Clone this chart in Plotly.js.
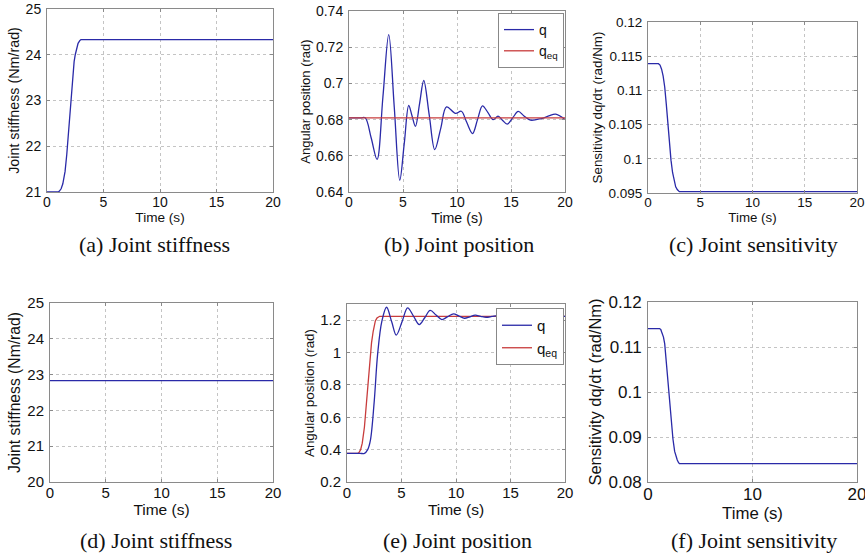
<!DOCTYPE html>
<html>
<head>
<meta charset="utf-8">
<script src="https://cdn.plot.ly/plotly-3.0.1.min.js"></script>
<style>html,body{margin:0;padding:0;background:#fff;}#chart{width:865px;height:557px;}</style>
</head>
<body>
<div id="chart"></div>
<script>
// ---------- data ----------
// (a) joint stiffness, case 1
const timeA = [0, 1.0, 1.1, 1.25, 1.4, 1.5, 1.6, 1.75, 1.9, 2.0, 2.1, 2.25, 2.4, 2.5, 2.6, 2.75, 2.9, 3.0, 20];
const stiffA = [21.0, 21.0, 21.02, 21.07, 21.18, 21.3, 21.45, 21.82, 22.3, 22.68, 23.05, 23.5, 23.85, 24.0, 24.12, 24.25, 24.31, 24.33, 24.33];

// (b) joint position, case 1
const timeB = [0, 1.1, 1.5, 2.05, 2.6, 3.14, 3.68, 4.19, 4.7, 5.12, 5.53, 5.84, 6.15, 6.54, 6.92, 7.43, 7.94, 8.49, 9.03, 9.86, 10.4, 10.9, 11.44, 11.9, 12.36, 12.85, 13.35, 13.8, 14.2, 14.65, 15.16, 15.67, 16.2, 16.8, 17.8, 18.5, 19.13, 20];
const qB = [0.681, 0.681, 0.681, 0.670, 0.658, 0.6925, 0.727, 0.687, 0.6465, 0.667, 0.6878, 0.682, 0.6763, 0.689, 0.7016, 0.6825, 0.6634, 0.675, 0.687, 0.6834, 0.6846, 0.6785, 0.6723, 0.680, 0.6876, 0.684, 0.680, 0.6819, 0.6797, 0.6775, 0.681, 0.6845, 0.682, 0.6797, 0.6806, 0.682, 0.683, 0.680];
const timeBeq = [0, 20];
const qeqB = [0.681, 0.681];

// (c) joint sensitivity, case 1
const timeC = [0, 1.0, 1.15, 1.3, 1.45, 1.6, 1.75, 1.9, 2.05, 2.2, 2.35, 2.5, 2.65, 2.8, 2.9, 3.0, 20];
const sensC = [0.1139, 0.1139, 0.1137, 0.1131, 0.1121, 0.1105, 0.1080, 0.1050, 0.1022, 0.0998, 0.0980, 0.0967, 0.0959, 0.0955, 0.0953, 0.0952, 0.0952];

// (d) joint stiffness, case 2
const timeD = [0, 1, 3, 20];
const stiffD = [22.83, 22.83, 22.83, 22.83];

// (e) joint position, case 2
const timeE = [0, 1.2, 1.6, 1.9, 2.14, 2.5, 2.81, 3.2, 3.63, 4.1, 4.52, 5.05, 5.56, 6.1, 6.63, 7.13, 7.63, 8.17, 8.7, 9.24, 9.77, 10.28, 10.78, 11.27, 11.76, 12.26, 12.76, 13.3, 13.8, 14.5, 15.5, 17, 18.5, 20];
const qE = [0.377, 0.377, 0.377, 0.40, 0.455, 0.70, 0.99, 1.194, 1.28, 1.19, 1.108, 1.19, 1.276, 1.225, 1.173, 1.215, 1.26, 1.232, 1.204, 1.222, 1.239, 1.225, 1.212, 1.221, 1.231, 1.224, 1.218, 1.223, 1.228, 1.223, 1.221, 1.223, 1.223, 1.223];
const timeEeq = [0, 1.0, 1.1, 1.25, 1.4, 1.5, 1.6, 1.75, 1.9, 2.0, 2.1, 2.25, 2.4, 2.5, 2.6, 2.75, 2.9, 3.0, 20];
const qeqE = [0.377, 0.377, 0.382, 0.40, 0.44, 0.48, 0.54, 0.66, 0.79, 0.87, 0.96, 1.06, 1.13, 1.17, 1.195, 1.213, 1.221, 1.224, 1.224];

// (f) joint sensitivity, case 2
const timeF = [0, 1.1, 1.22, 1.35, 1.48, 1.6, 1.75, 1.91, 2.07, 2.23, 2.39, 2.55, 2.68, 2.8, 2.9, 3.0, 20];
const sensF = [0.1141, 0.1141, 0.1139, 0.1132, 0.1122, 0.1107, 0.1066, 0.1019, 0.0974, 0.0930, 0.0895, 0.0868, 0.0856, 0.0849, 0.0844, 0.0841, 0.0841];

// titles / labels
const xTitle = 'Time (s)';
const yTitles = ['Joint stiffness (Nm/rad)', 'Angular position (rad)', 'Sensitivity dq/dτ (rad/Nm)',
                 'Joint stiffness (Nm/rad)', 'Angular position (rad)', 'Sensitivity dq/dτ (rad/Nm)'];
const captions = ['(a) Joint stiffness', '(b) Joint position', '(c) Joint sensitivity',
                  '(d) Joint stiffness', '(e) Joint position', '(f) Joint sensitivity'];
const legendNames = ['q', 'q<sub>eq</sub>'];

// ---------- styling ----------
const BLUE = '#2a2aa8';
const RED = '#c83c3c';
const FONT = 'Liberation Sans, Arial, sans-serif';

function line(x, y, color, xa, ya, extra) {
  return Object.assign({
    x: x, y: y, xaxis: xa, yaxis: ya, type: 'scatter', mode: 'lines',
    line: {color: color, width: 1.3, shape: 'linear'},
    showlegend: false, hoverinfo: 'skip'
  }, extra || {});
}
const splineLine = {color: BLUE, width: 1.3, shape: 'spline', smoothing: 1};

const traces = [
  line(timeA, stiffA, BLUE, 'x', 'y'),
  line(timeB, qB, BLUE, 'x2', 'y2', {name: legendNames[0], showlegend: true, legend: 'legend', line: splineLine}),
  line(timeBeq, qeqB, RED, 'x2', 'y2', {name: legendNames[1], showlegend: true, legend: 'legend'}),
  line(timeC, sensC, BLUE, 'x3', 'y3'),
  line(timeD, stiffD, BLUE, 'x4', 'y4'),
  line(timeEeq, qeqE, RED, 'x5', 'y5', {name: legendNames[1], showlegend: true, legend: 'legend2'}),
  line(timeE, qE, BLUE, 'x5', 'y5', {name: legendNames[0], showlegend: true, legend: 'legend2', line: splineLine}),
  line(timeF, sensF, BLUE, 'x6', 'y6')
];

const W = 865, H = 557;
// plot boxes in pixels: [left, right, top, bottom]
const boxes = [
  [47, 273, 9, 192], [349, 565, 11, 192], [648, 857, 22, 193],
  [50, 273, 303, 482], [347, 565, 304, 482], [648, 857, 302, 482]
];
const tickSizes = [14, 14, 13.5, 15, 15, 17];
const xTitleSizes = [13.6, 14.2, 13.3, 15.5, 15.5, 16.8];
const yTitleSizes = [14.3, 13, 13.4, 15.7, 13.4, 16.5];
const xRanges = [[0, 20], [0, 20], [0, 20], [0, 20], [0, 20], [0, 20]];
const xDticks = [5, 5, 5, 5, 5, 10];
const yRanges = [[21, 25], [0.64, 0.74], [0.095, 0.12], [20, 25], [0.2, 1.3], [0.08, 0.12]];
const yDticks = [1, 0.02, 0.005, 1, 0.2, 0.01];
const yTick0 = [21, 0.64, 0.095, 20, 0.2, 0.08];

const layout = {
  width: W, height: H,
  margin: {l: 0, r: 0, t: 0, b: 0},
  paper_bgcolor: '#ffffff', plot_bgcolor: '#ffffff',
  font: {family: FONT, color: '#111'},
  showlegend: true,
  legend: {
    x: 564 / W, xanchor: 'right', y: 1 - 13 / H, yanchor: 'top',
    bgcolor: '#ffffff', bordercolor: '#888', borderwidth: 1,
    font: {family: FONT, size: 14, color: '#111'}, itemwidth: 30, tracegroupgap: 0
  },
  legend2: {
    x: 564 / W, xanchor: 'right', y: 1 - 308 / H, yanchor: 'top',
    bgcolor: '#ffffff', bordercolor: '#888', borderwidth: 1,
    font: {family: FONT, size: 15, color: '#111'}, itemwidth: 30, traceorder: 'reversed'
  },
  annotations: []
};

const capPos = [[154, 245], [459, 245], [753, 245], [156, 540], [457, 540], [754, 540]];

for (let i = 0; i < 6; i++) {
  const s = i === 0 ? '' : String(i + 1);
  const b = boxes[i];
  layout['xaxis' + s] = {
    domain: [b[0] / W, b[1] / W], anchor: 'y' + s,
    range: xRanges[i], tick0: 0, dtick: xDticks[i],
    showline: true, linecolor: '#8a8a8a', linewidth: 1, mirror: 'ticks',
    ticks: 'inside', ticklen: 3, tickcolor: '#8a8a8a',
    showgrid: true, gridcolor: '#c4c4c4', griddash: 'dot', gridwidth: 1,
    zeroline: false, ticklabelstandoff: -3, ticklabeloverflow: 'allow',
    tickfont: {family: FONT, size: tickSizes[i], color: '#111'},
    title: {text: xTitle, font: {family: FONT, size: xTitleSizes[i], color: '#111'}, standoff: 0}
  };
  layout['yaxis' + s] = {
    domain: [1 - b[3] / H, 1 - b[2] / H], anchor: 'x' + s,
    range: yRanges[i], tick0: yTick0[i], dtick: yDticks[i],
    showline: true, linecolor: '#8a8a8a', linewidth: 1, mirror: 'ticks',
    ticks: 'inside', ticklen: 3, tickcolor: '#8a8a8a',
    showgrid: true, gridcolor: '#c4c4c4', griddash: 'dot', gridwidth: 1,
    zeroline: false, ticklabelstandoff: 2, ticklabeloverflow: 'allow',
    tickfont: {family: FONT, size: tickSizes[i], color: '#111'},
    title: {text: yTitles[i], font: {family: FONT, size: yTitleSizes[i], color: '#111'}, standoff: 2}
  };
  layout.annotations.push({
    text: captions[i], xref: 'paper', yref: 'paper',
    x: capPos[i][0] / W, y: 1 - capPos[i][1] / H, xanchor: 'center', yanchor: 'middle',
    showarrow: false, font: {family: 'Liberation Serif, Times New Roman, serif', size: 22, color: '#111'}
  });
}

Plotly.newPlot('chart', traces, layout, {displayModeBar: false, staticPlot: true});
</script>
</body>
</html>
